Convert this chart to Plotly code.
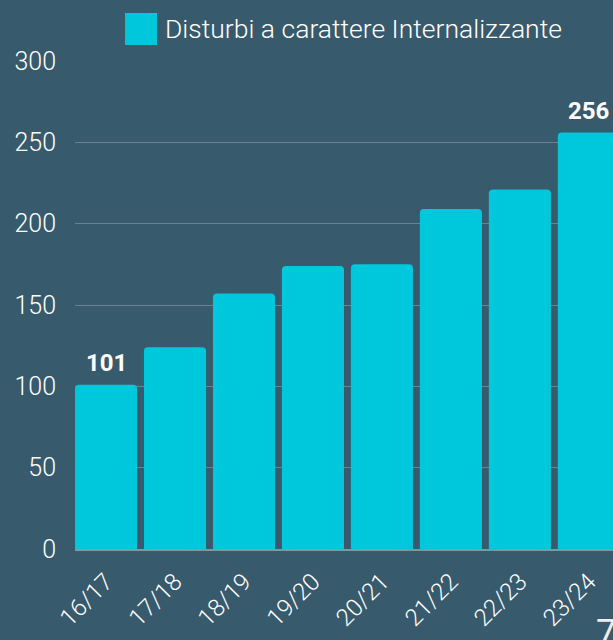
import plotly.graph_objects as go

categories = ["16/17", "17/18", "18/19", "19/20", "20/21", "21/22", "22/23", "23/24"]
values = [101, 124, 157, 174, 175, 209, 221, 256]
series_name = "Disturbi a carattere Internalizzante"
y_ticks = [0, 50, 100, 150, 200, 250, 300]
labeled = [0, len(values) - 1]

BG = "#385a6d"
BAR = "#00c8dc"
FONT = "Roboto"

fig = go.Figure()
fig.add_trace(go.Bar(
    x=categories, y=values, name=series_name,
    marker=dict(color=BAR, line=dict(width=0)),
    showlegend=False, hoverinfo="skip",
))

value_annotations = [
    dict(x=categories[i], y=values[i], text=str(values[i]),
         xref="x", yref="y", xanchor="center", yanchor="bottom",
         yshift=6, showarrow=False,
         font=dict(family=FONT, size=24, color="white", weight="bold"))
    for i in labeled
]

fig.update_layout(
    width=613, height=640,
    paper_bgcolor=BG, plot_bgcolor=BG,
    margin=dict(l=75, r=0, t=61, b=91),
    bargap=0.1,
    barcornerradius=4,
    font=dict(family=FONT, color="white"),
    xaxis=dict(
        range=[-0.45, 7.35], tickangle=-45,
        tickfont=dict(family=FONT, size=24, color="white", weight=300),
        showgrid=False, showline=True, linecolor="#7f98a6", linewidth=2,
        ticks="", ticklabelstandoff=7, fixedrange=True,
    ),
    yaxis=dict(
        range=[0, 300], tickvals=y_ticks,
        tickfont=dict(family=FONT, size=25, color="white", weight=300),
        showgrid=True, gridcolor="rgba(255,255,255,0.25)", gridwidth=1,
        zeroline=False, ticks="", ticklabelstandoff=18, fixedrange=True,
    ),
    shapes=[dict(
        type="rect", xref="paper", yref="paper",
        x0=(125 - 75) / 538, x1=(157 - 75) / 538,
        y0=1 + (61 - 45) / 488, y1=1 + (61 - 13) / 488,
        fillcolor=BAR, line=dict(width=0),
    )],
    annotations=value_annotations + [
        dict(text=series_name, xref="paper", yref="paper",
             x=(163 - 75) / 538, y=1 + (61 - 29) / 488,
             xanchor="left", yanchor="middle", showarrow=False,
             font=dict(family=FONT, size=26.5, color="white", weight=300)),
        dict(text="7", xref="paper", yref="paper",
             x=(594 - 75) / 538, y=-(610 - 549) / 488,
             xanchor="left", yanchor="top", showarrow=False,
             font=dict(family=FONT, size=36, color="#eeeeee", weight=400)),
    ],
)

fig.write_html(
    "out.html",
    config=dict(displayModeBar=False),
    post_script="document.body.style.margin='0';document.body.style.overflow='hidden';",
)
